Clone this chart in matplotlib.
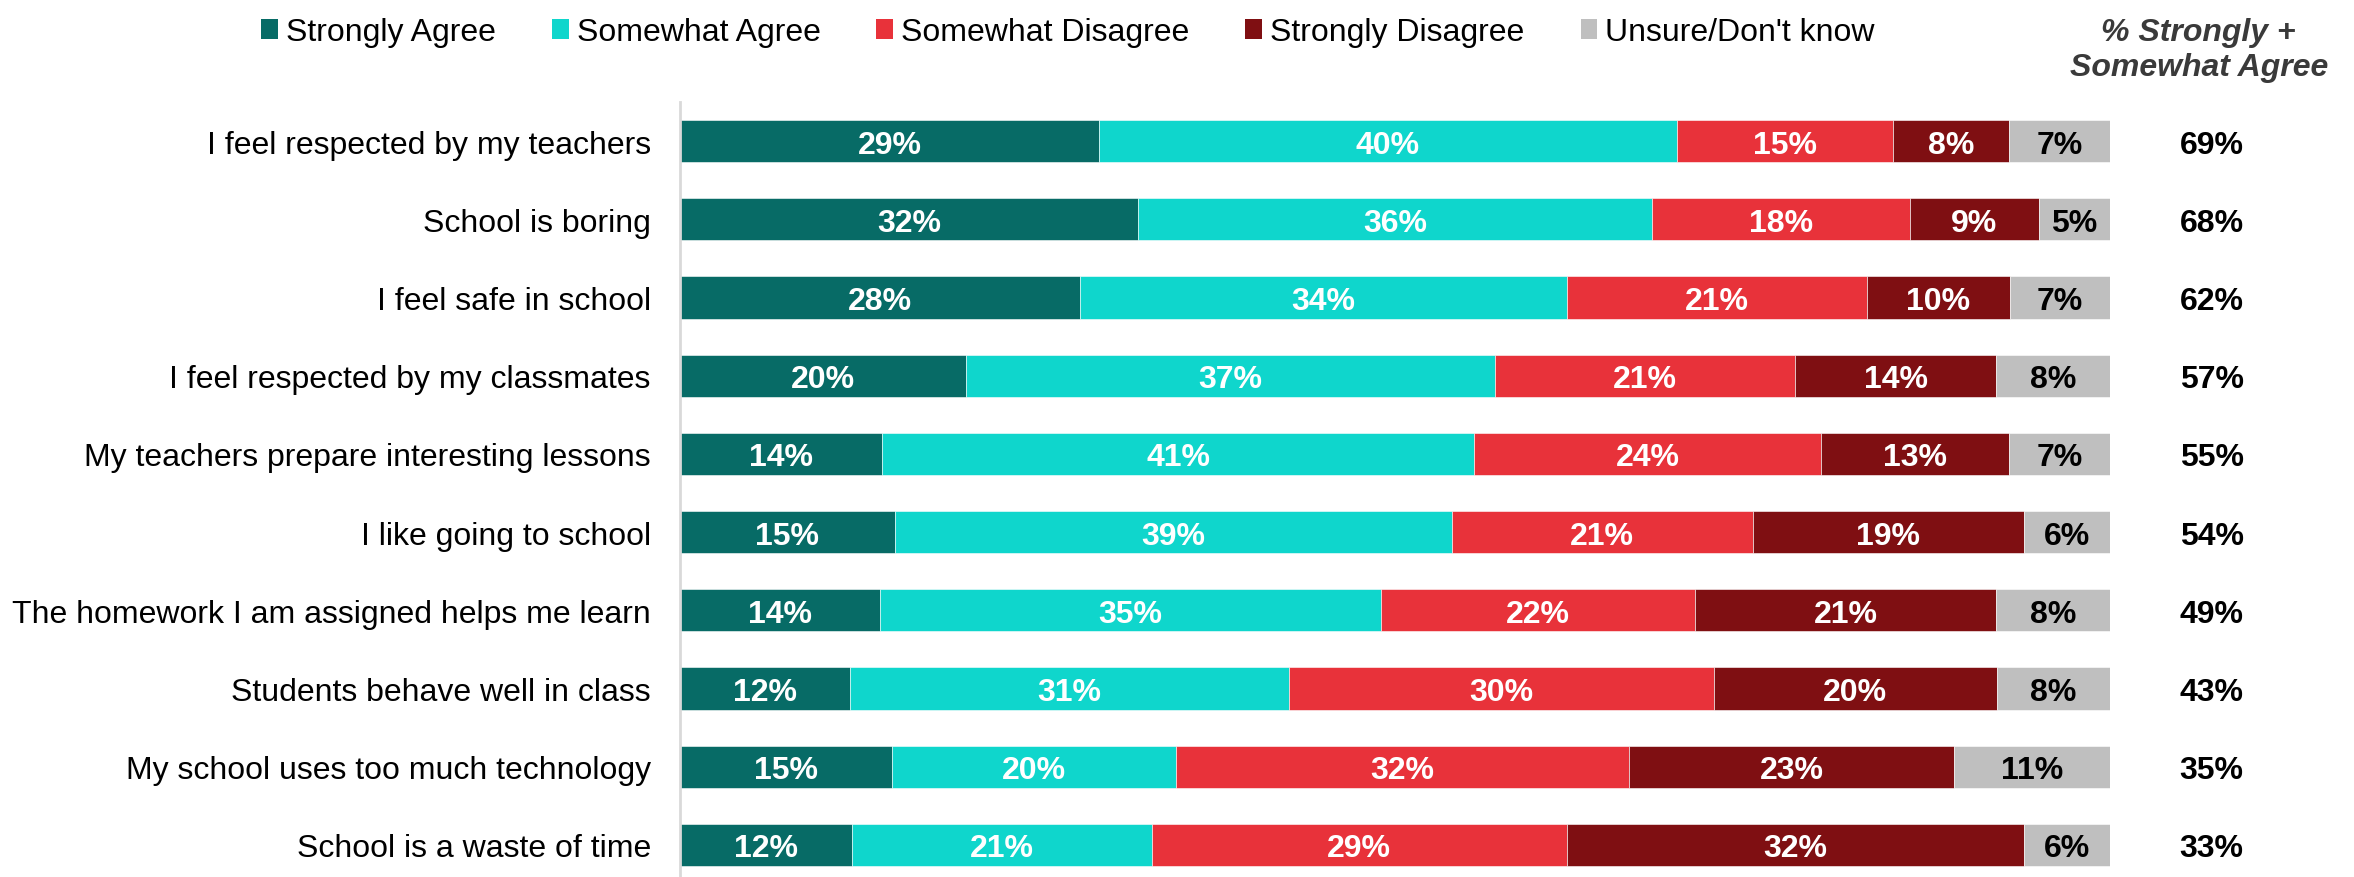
import matplotlib
matplotlib.use("Agg")
import matplotlib.pyplot as plt
from matplotlib.patches import Patch
import numpy as np

plt.rcParams['font.family'] = ['Liberation Sans', 'DejaVu Sans']

# data
categories = [
    "I feel respected by my teachers",
    "School is boring",
    "I feel safe in school",
    "I feel respected by my classmates",
    "My teachers prepare interesting lessons",
    "I like going to school",
    "The homework I am assigned helps me learn",
    "Students behave well in class",
    "My school uses too much technology",
    "School is a waste of time",
]
strongly_agree = [29, 32, 28, 20, 14, 15, 14, 12, 15, 12]
somewhat_agree = [40, 36, 34, 37, 41, 39, 35, 31, 20, 21]
somewhat_disagree = [15, 18, 21, 21, 24, 21, 22, 30, 32, 29]
strongly_disagree = [8, 9, 10, 14, 13, 19, 21, 20, 23, 32]
unsure = [7, 5, 7, 8, 7, 6, 8, 8, 11, 6]
net_agree = [69, 68, 62, 57, 55, 54, 49, 43, 35, 33]

series_names = ["Strongly Agree", "Somewhat Agree", "Somewhat Disagree",
                "Strongly Disagree", "Unsure/Don't know"]
colors = ["#076B66", "#0FD6CC", "#E8323A", "#7F0F12", "#BFBFBF"]
label_colors = ["white", "white", "white", "white", "black"]

series = np.array([strongly_agree, somewhat_agree, somewhat_disagree,
                   strongly_disagree, unsure], dtype=float)
# bars are stretched to full width, so normalise each row to 100
widths = series / series.sum(axis=0) * 100

fig = plt.figure(figsize=(23.54, 8.78), dpi=100)
ax = fig.add_axes([680 / 2354, -7 / 878, 1430 / 2354, 782 / 878])

y = np.arange(len(categories))
left = np.zeros(len(categories))
for k in range(len(series_names)):
    ax.barh(y, widths[k], left=left, height=0.54, color=colors[k],
            edgecolor='white', linewidth=0.4, label=series_names[k])
    for i in range(len(categories)):
        ax.text(left[i] + widths[k][i] / 2, y[i], f"{int(series[k][i])}%",
                ha='center', va='center_baseline', fontsize=23,
                fontweight='bold', color=label_colors[k])
    left += widths[k]

# right column: % strongly + somewhat agree
for i, v in enumerate(net_agree):
    ax.text(107.1, y[i], f"{v}%", ha='center', va='center_baseline',
            fontsize=23, fontweight='bold', color='black', clip_on=False)
ax.text(106.2, -1.17, "% Strongly +\nSomewhat Agree", ha='center', va='center',
        fontsize=23, fontweight='bold', fontstyle='italic', color='#3A3A3A',
        clip_on=False)

ax.set_xlim(0, 100)
ax.set_ylim(len(categories) - 0.5, -0.5)
ax.set_yticks(y)
ax.set_yticklabels(categories, fontsize=23)
ax.tick_params(axis='y', length=0, pad=21)
ax.set_xticks([])
for s in ['top', 'right', 'bottom']:
    ax.spines[s].set_visible(False)
ax.spines['left'].set_color('#D9D9D9')
ax.spines['left'].set_linewidth(2)

handles = [Patch(facecolor=c, edgecolor='none') for c in colors]
fig.legend(handles, series_names, loc='center left',
           bbox_to_anchor=(261 / 2354, 1 - 33 / 878), ncol=5, frameon=False,
           fontsize=23, handlelength=0.53, handleheight=0.6,
           handletextpad=0.25, columnspacing=1.75, borderpad=0,
           borderaxespad=0)

fig.savefig("out.png", dpi=100)
